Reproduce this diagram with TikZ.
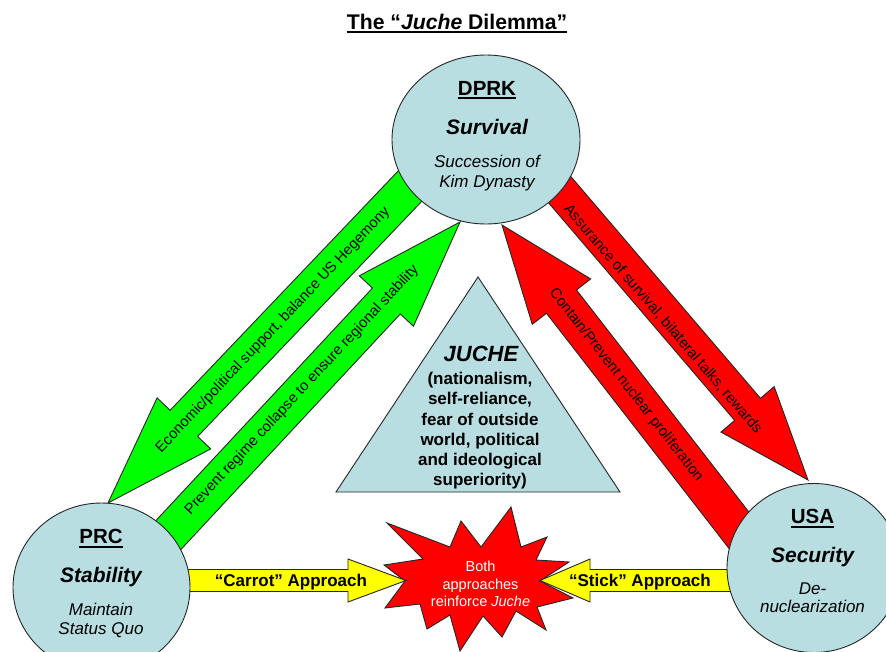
\documentclass[tikz,border=0pt]{standalone}
\usepackage{fontspec}
\setmainfont{Liberation Sans}
\usetikzlibrary{calc,shapes.geometric}
\definecolor{cblue}{RGB}{185,222,226}
\definecolor{cgreen}{RGB}{0,255,0}
\definecolor{cred}{RGB}{255,0,0}
\definecolor{cyellow}{RGB}{255,255,0}
\newsavebox\ulbox
\newcommand\myul[1]{\sbox\ulbox{#1}\rlap{\rule[-4.3pt]{\wd\ulbox}{2pt}}\usebox\ulbox}
\newcommand\fsz[1]{\fontsize{#1}{#1}\selectfont}
% #1 style, #2 tail, #3 tip, #4 body half width, #5 head half width, #6 head length
\newcommand\blockarrow[6]{%
  \coordinate (ba-hb) at ($(#3)!#6!(#2)$);
  \path[#1] ($(#2)!#4!90:(#3)$) -- ($(ba-hb)!#4!90:(#3)$) -- ($(ba-hb)!#5!90:(#3)$) -- (#3)
     -- ($(ba-hb)!#5!-90:(#3)$) -- ($(ba-hb)!#4!-90:(#3)$) -- ($(#2)!#4!-90:(#3)$) -- cycle;
}
\begin{document}
\begin{tikzpicture}[x=1pt,y=-1pt,
  outl/.style={draw=black!85, line width=0.9pt, line join=miter},
  garrow/.style={outl, fill=cgreen},
  rarrow/.style={outl, fill=cred},
  yarrow/.style={outl, fill=cyellow},
  circ/.style={ellipse, outl, fill=cblue, inner sep=0pt},
  txt/.style={anchor=base, inner sep=0pt},
  lab/.style={inner sep=0pt, font=\fsz{14.8}}]
\useasboundingbox (0,0) rectangle (886,651);
\clip (0,0) rectangle (886,651);
\fill[white] (0,0) rectangle (886,651);

% title
\node[txt, font=\fsz{21.2}\bfseries] (title) at (457,29) {\myul{The “\textit{Juche} Dilemma”}};

% arrow end points
\coordinate (g1tail) at (432,163); \coordinate (g1tip) at (108,503);
\coordinate (g2tail) at (133,573); \coordinate (g2tip) at (460,222);
\coordinate (r1tail) at (548,176); \coordinate (r1tip) at (808,480);
\coordinate (r2tail) at (790,596); \coordinate (r2tip) at (502,225);
\coordinate (y1tail) at (150,580.5); \coordinate (y1tip) at (406,580.5);
\coordinate (y2tail) at (790,580.5); \coordinate (y2tip) at (540,580.5);

% green and red arrows
\blockarrow{garrow}{g1tail}{g1tip}{19pt}{37pt}{110pt}
\blockarrow{garrow}{g2tail}{g2tip}{19pt}{37pt}{108pt}
\blockarrow{rarrow}{r1tail}{r1tip}{17pt}{35pt}{93pt}
\blockarrow{rarrow}{r2tail}{r2tip}{19pt}{37pt}{97pt}

% arrow labels
\node[lab, rotate=46.5] (g1lab) at (273,330) {Economic/political support, balance US Hegemony};
\node[lab, rotate=47.0] (g2lab) at (302,390) {Prevent regime collapse to ensure regional stability};
\node[lab, rotate=-49.4] (r1lab) at (663,319) {Assurance of survival, bilateral talks, rewards};
\node[lab, rotate=-52.0] (r2lab) at (626,385) {Contain/Prevent nuclear proliferation};

% explosion
\path[outl, fill=cred] (511,507) -- (521,547) -- (547,537) -- (536,560) -- (569,562) -- (540,581)
  -- (573,598) -- (537,607) -- (546,630) -- (516,611) -- (502,637) -- (483,616) -- (460,651)
  -- (450,615) -- (427,629) -- (420,604) -- (385,608) -- (405,581) -- (384,565) -- (423,559)
  -- (387,523) -- (450,547) -- (461,521) -- (481,547) -- cycle;
\node[txt, font=\fsz{14.5}, text=white] (star1) at (480.5,571.7) {Both};
\node[txt, font=\fsz{14.5}, text=white] (star2) at (480.5,589.3) {approaches};
\node[txt, font=\fsz{14.5}, text=white] (star3) at (480.5,606) {reinforce \textit{Juche}};

% yellow arrows
\blockarrow{yarrow}{y1tail}{y1tip}{11pt}{21.5pt}{58pt}
\blockarrow{yarrow}{y2tail}{y2tip}{11pt}{21.5pt}{50pt}
\node[txt, font=\fsz{17}\bfseries] (carrot) at (291,586.7) {“Carrot” Approach};
\node[txt, font=\fsz{17}\bfseries] (stick) at (640,586.7) {“Stick” Approach};

% Juche triangle
\path[outl, fill=cblue] (336,492) -- (620,492) -- (478,277) -- cycle;
\node[txt, font=\fsz{22}\bfseries\itshape] (juche) at (481,361.7) {JUCHE};
\node[txt, font=\fsz{17}\bfseries] (j1) at (480,384.8) {(nationalism,};
\node[txt, font=\fsz{17}\bfseries] (j2) at (480,404.9) {self-reliance,};
\node[txt, font=\fsz{17}\bfseries] (j3) at (480,425.0) {fear of outside};
\node[txt, font=\fsz{17}\bfseries] (j4) at (480,445.1) {world, political};
\node[txt, font=\fsz{17}\bfseries] (j5) at (480,465.2) {and ideological};
\node[txt, font=\fsz{17}\bfseries] (j6) at (480,485.3) {superiority)};

% actors
\node[circ, minimum width=188pt, minimum height=169pt] (dprk) at (486,139.5) {};
\node[circ, minimum width=177pt, minimum height=169pt] (prc) at (101.5,587.5) {};
\node[circ, minimum width=174pt, minimum height=169pt] (usa) at (814,568) {};

\node[txt, font=\fsz{20.5}\bfseries] (dprkname) at (487,95) {\myul{DPRK}};
\node[txt, font=\fsz{21}\bfseries\itshape] (dprkgoal) at (487,134) {Survival};
\node[txt, font=\fsz{17}\itshape] (dprk1) at (487,167.3) {Succession of};
\node[txt, font=\fsz{17}\itshape] (dprk2) at (487,187.7) {Kim Dynasty};

\node[txt, font=\fsz{20.5}\bfseries] (prcname) at (101,543.3) {\myul{PRC}};
\node[txt, font=\fsz{21}\bfseries\itshape] (prcgoal) at (101,582.5) {Stability};
\node[txt, font=\fsz{17}\itshape] (prc1) at (101,615) {Maintain};
\node[txt, font=\fsz{17}\itshape] (prc2) at (101,634.3) {Status Quo};

\node[txt, font=\fsz{20.5}\bfseries] (usaname) at (812.5,523.3) {\myul{USA}};
\node[txt, font=\fsz{21}\bfseries\itshape] (usagoal) at (812.5,562.7) {Security};
\node[txt, font=\fsz{17}\itshape] (usa1) at (812.5,594) {De-};
\node[txt, font=\fsz{17}\itshape] (usa2) at (812.5,612.7) {nuclearization};
\end{tikzpicture}
\end{document}
